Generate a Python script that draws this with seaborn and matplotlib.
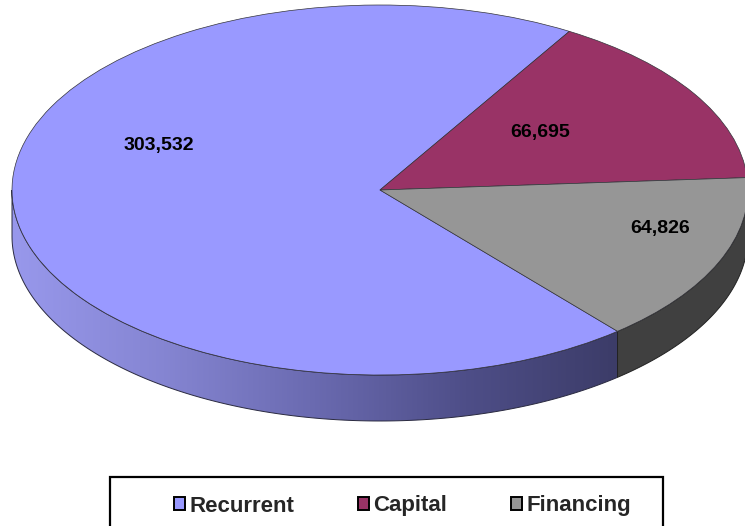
import numpy as np
import matplotlib
matplotlib.use("Agg")
import matplotlib.pyplot as plt
from matplotlib.colors import LinearSegmentedColormap
from matplotlib.path import Path
from matplotlib.patches import PathPatch, Rectangle
import seaborn as sns

categories = ["Recurrent", "Capital", "Financing"]
values = [303532, 66695, 64826]
value_labels = ["303,532", "66,695", "64,826"]
colors = ["#9999FF", "#993366", "#969696"]

sns.set_theme(style="white")
plt.rcParams["font.family"] = ["Liberation Sans", "DejaVu Sans"]

W, H = 745, 526
CX, CY, RX, RY = 380.0, 190.0, 368.0, 185.0
DEPTH = 46.0 / RY


def ux(px):
    return (px - CX) / RX


def uy(py):
    return (CY - py) / RY


fig = plt.figure(figsize=(W / 100, H / 100), dpi=100, facecolor="white")
ax = fig.add_axes([0, 0, 1, 1])

wedges, _ = ax.pie(
    values,
    colors=sns.color_palette(colors),
    startangle=-49.8,
    counterclock=False,
    radius=1.0,
    wedgeprops={"linewidth": 0.5, "edgecolor": "#33333a", "zorder": 5},
)
ax.set_aspect("auto")


def wall_path(a0, a1):
    t = np.radians(np.linspace(a0, a1, 200))
    xs = np.cos(t)
    ys = np.sin(t)
    verts = np.r_[np.c_[xs, ys], np.c_[xs[::-1], ys[::-1] - DEPTH], [[xs[0], ys[0]]]]
    return Path(verts, closed=True)


# Front wall of the largest slice, shaded left to right
a_end = wedges[0].theta2
blue_path = wall_path(-180, a_end)
cmap = LinearSegmentedColormap.from_list(
    "wall", ["#9898EC", "#8585D2", "#6A6AB0", "#4E4E88", "#3C3C68"]
)
grad = np.linspace(0, 1, 512)[None, :]
x_right = np.cos(np.radians(a_end))
im = ax.imshow(
    grad, cmap=cmap, extent=(-1, x_right, -1 - DEPTH, 1), aspect="auto", zorder=2,
    interpolation="bilinear",
)
ax.add_patch(PathPatch(blue_path, facecolor="none", edgecolor="#2a2a40", linewidth=0.7, zorder=3))
im.set_clip_path(PathPatch(blue_path, transform=ax.transData))

# Front wall of the last slice
grey_path = wall_path(a_end, 0)
ax.add_patch(PathPatch(grey_path, facecolor="#404040", edgecolor="#222222", linewidth=0.7, zorder=3))
ax.set_xlim(ux(0), ux(W))
ax.set_ylim(uy(H), uy(0))

label_pos = [(158.5, 145.5), (540, 132.5), (660, 228.5)]
for txt, (px, py) in zip(value_labels, label_pos):
    ax.text(ux(px), uy(py), txt, ha="center", va="center", fontsize=14,
            fontweight="bold", color="black", zorder=6)

# Legend frame, open past the bottom edge of the picture
fig.add_artist(Rectangle((110 / W, 1 - 531 / H), 553 / W, 54 / H, transform=fig.transFigure,
                         facecolor="white", edgecolor="black", linewidth=1.6))
leg = fig.legend(
    wedges, categories, ncol=3, loc="center left",
    bbox_to_anchor=(174 / W, 1 - 506 / H), borderaxespad=0,
    frameon=False,
    prop={"size": 16, "weight": "bold"},
    handlelength=0.5, handleheight=0.5, handletextpad=0.2,
    columnspacing=2.85, borderpad=0,
)
for h in leg.legend_handles:
    h.set_edgecolor("black")
    h.set_linewidth(1.4)

fig.savefig("out.png", dpi=100)
